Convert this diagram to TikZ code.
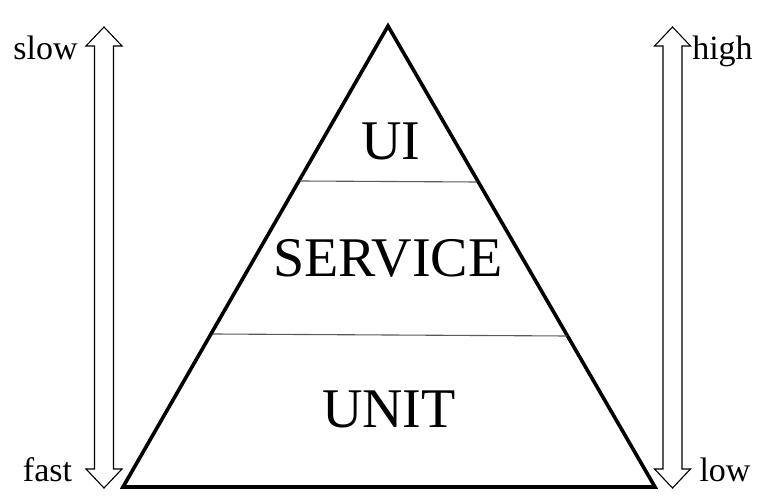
\documentclass[tikz,border=0pt]{standalone}
\usepackage{fontspec}
\setmainfont{Liberation Serif}
\begin{document}
\begin{tikzpicture}[x=1pt,y=-1pt,
  big/.style={inner sep=0pt,anchor=base,font=\fontsize{56}{60}\selectfont},
  small/.style={inner sep=0pt,anchor=base,font=\fontsize{34}{36}\selectfont},
  pyr/.style={draw=black,line width=3.6pt,line join=miter},
  divider/.style={draw=black!65,line width=1.1pt},
  dblarrow/.style={draw=black,line width=1.1pt,fill=white,line join=miter}]
\useasboundingbox (0,0) rectangle (766,502);
% pyramid
\coordinate (apex) at (388,26);
\coordinate (bl) at (123,487);
\coordinate (br) at (655,487);
\draw[pyr] (apex) -- (br) -- (bl) -- cycle;
\coordinate (d1l) at (300,181);
\coordinate (d1r) at (477,182);
\coordinate (d2l) at (213,334);
\coordinate (d2r) at (567,336);
\draw[divider] (d1l) -- (d1r);
\draw[divider] (d2l) -- (d2r);
% labels in pyramid
\node[big] (ui) at (391,160) {UI};
\node[big] (service) at (388,277) {SERVICE};
\node[big] (unit) at (389,428) {UNIT};
% left double arrow
\draw[dblarrow] (104,27) -- (122,46) -- (113.5,46) -- (113.5,469) -- (122,469) -- (104,488)
  -- (86,469) -- (94.5,469) -- (94.5,46) -- (86,46) -- cycle;
% right double arrow
\draw[dblarrow] (672.5,27) -- (690.5,46) -- (682,46) -- (682,469) -- (690.5,469) -- (672.5,488)
  -- (654.5,469) -- (663,469) -- (663,46) -- (654.5,46) -- cycle;
% side labels
\node[small] (slow) at (45.5,60) {slow};
\node[small] (fast) at (47.5,482) {fast};
\node[small] (high) at (722.5,60) {high};
\node[small] (low) at (725,482) {low};
\end{tikzpicture}
\end{document}
